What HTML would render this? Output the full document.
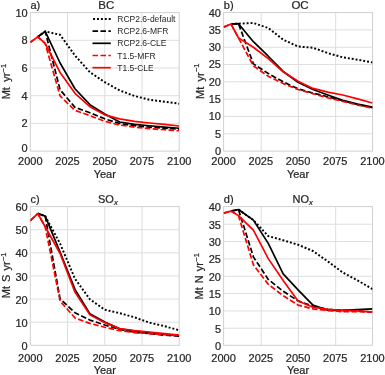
<!DOCTYPE html>
<html><head><meta charset="utf-8"><style>
html,body{margin:0;padding:0;background:#fff;}
svg{display:block;font-family:"Liberation Sans", sans-serif;will-change:transform;} text{stroke:#262626;stroke-width:0.22px;}
</style></head><body>
<svg width="385" height="375" viewBox="0 0 385 375">
<rect width="385" height="375" fill="#fff"/>
<clipPath id="clipa"><rect x="30.3" y="12.6" width="148.90" height="138.50"/></clipPath>
<g stroke="#dedede" stroke-width="1"><line x1="67.52" y1="12.6" x2="67.52" y2="151.1"/><line x1="104.75" y1="12.6" x2="104.75" y2="151.1"/><line x1="141.97" y1="12.6" x2="141.97" y2="151.1"/><line x1="30.3" y1="123.40" x2="179.2" y2="123.40"/><line x1="30.3" y1="95.70" x2="179.2" y2="95.70"/><line x1="30.3" y1="68.00" x2="179.2" y2="68.00"/><line x1="30.3" y1="40.30" x2="179.2" y2="40.30"/></g>
<rect x="30.3" y="12.6" width="148.90" height="138.50" fill="none" stroke="#d0d0d0" stroke-width="1"/>
<g clip-path="url(#clipa)"><polyline points="37.74,36.84 45.19,31.44 60.08,34.76 74.97,55.53 89.86,72.15 104.75,82.13 119.64,90.44 134.53,95.98 149.42,99.72 164.31,101.66 179.20,103.73" fill="none" stroke="#000" stroke-width="1.95" stroke-linejoin="round" stroke-dasharray="1.95 1.95"/><polyline points="37.74,36.84 45.19,31.44 60.08,89.74 74.97,107.33 89.86,112.74 104.75,118.83 119.64,123.54 134.53,125.75 149.42,127.14 164.31,128.25 179.20,129.22" fill="none" stroke="#000" stroke-width="1.7" stroke-linejoin="round" stroke-dasharray="5.55 2.40"/><polyline points="37.74,36.84 45.19,31.44 60.08,63.01 74.97,88.77 89.86,104.70 104.75,113.98 119.64,122.01 134.53,124.37 149.42,125.75 164.31,127.14 179.20,128.25" fill="none" stroke="#000" stroke-width="1.7" stroke-linejoin="round" /><polyline points="30.30,42.38 37.74,36.84 45.19,43.49 60.08,95.98 74.97,110.38 89.86,115.64 104.75,121.32 119.64,125.06 134.53,127.14 149.42,128.66 164.31,129.77 179.20,130.74" fill="none" stroke="#f00" stroke-width="1.7" stroke-linejoin="round" stroke-dasharray="5.55 2.40"/><polyline points="30.30,42.38 37.74,36.84 45.19,43.49 60.08,72.43 74.97,93.35 89.86,106.64 104.75,114.81 119.64,118.83 134.53,121.32 149.42,122.98 164.31,124.37 179.20,126.03" fill="none" stroke="#f00" stroke-width="1.7" stroke-linejoin="round" /></g>
<clipPath id="clipb"><rect x="223.6" y="12.6" width="148.90" height="138.50"/></clipPath>
<g stroke="#dedede" stroke-width="1"><line x1="261.22" y1="12.6" x2="261.22" y2="151.1"/><line x1="298.45" y1="12.6" x2="298.45" y2="151.1"/><line x1="335.67" y1="12.6" x2="335.67" y2="151.1"/><line x1="223.6" y1="133.79" x2="372.5" y2="133.79"/><line x1="223.6" y1="116.47" x2="372.5" y2="116.47"/><line x1="223.6" y1="99.16" x2="372.5" y2="99.16"/><line x1="223.6" y1="81.85" x2="372.5" y2="81.85"/><line x1="223.6" y1="64.54" x2="372.5" y2="64.54"/><line x1="223.6" y1="47.22" x2="372.5" y2="47.22"/><line x1="223.6" y1="29.91" x2="372.5" y2="29.91"/></g>
<rect x="223.6" y="12.6" width="148.90" height="138.50" fill="none" stroke="#d0d0d0" stroke-width="1"/>
<g clip-path="url(#clipb)"><polyline points="231.04,24.03 238.49,23.68 253.38,22.99 268.27,28.01 283.16,39.61 298.05,46.53 312.94,47.74 327.83,53.11 342.72,57.27 357.61,59.69 372.50,62.46" fill="none" stroke="#000" stroke-width="1.95" stroke-linejoin="round" stroke-dasharray="1.95 1.95"/><polyline points="231.04,24.03 238.49,23.68 253.38,63.84 268.27,73.54 283.16,81.85 298.05,88.77 312.94,93.10 327.83,96.74 342.72,100.72 357.61,104.53 372.50,107.61" fill="none" stroke="#000" stroke-width="1.7" stroke-linejoin="round" stroke-dasharray="5.55 2.40"/><polyline points="231.04,24.03 238.49,23.68 253.38,41.68 268.27,56.23 283.16,71.46 298.05,82.20 312.94,89.47 327.83,95.01 342.72,100.20 357.61,104.01 372.50,107.13" fill="none" stroke="#000" stroke-width="1.7" stroke-linejoin="round" /><polyline points="223.60,27.14 231.04,24.03 238.49,37.88 253.38,65.92 268.27,76.31 283.16,83.58 298.05,89.47 312.94,93.62 327.83,97.78 342.72,101.41 357.61,105.05 372.50,108.16" fill="none" stroke="#f00" stroke-width="1.7" stroke-linejoin="round" stroke-dasharray="5.55 2.40"/><polyline points="223.60,27.14 231.04,24.03 238.49,37.88 253.38,47.22 268.27,58.65 283.16,71.81 298.05,81.16 312.94,88.43 327.83,92.06 342.72,95.01 357.61,98.82 372.50,102.97" fill="none" stroke="#f00" stroke-width="1.7" stroke-linejoin="round" /></g>
<clipPath id="clipc"><rect x="30.3" y="206.6" width="148.90" height="138.70"/></clipPath>
<g stroke="#dedede" stroke-width="1"><line x1="67.52" y1="206.6" x2="67.52" y2="345.3"/><line x1="104.75" y1="206.6" x2="104.75" y2="345.3"/><line x1="141.97" y1="206.6" x2="141.97" y2="345.3"/><line x1="30.3" y1="322.18" x2="179.2" y2="322.18"/><line x1="30.3" y1="299.07" x2="179.2" y2="299.07"/><line x1="30.3" y1="275.95" x2="179.2" y2="275.95"/><line x1="30.3" y1="252.83" x2="179.2" y2="252.83"/><line x1="30.3" y1="229.72" x2="179.2" y2="229.72"/></g>
<rect x="30.3" y="206.6" width="148.90" height="138.70" fill="none" stroke="#d0d0d0" stroke-width="1"/>
<g clip-path="url(#clipc)"><polyline points="37.74,213.53 45.19,216.08 60.08,243.59 74.97,278.72 89.86,299.30 104.75,309.70 119.64,313.17 134.53,317.33 149.42,322.65 164.31,326.11 179.20,330.27" fill="none" stroke="#000" stroke-width="1.95" stroke-linejoin="round" stroke-dasharray="1.95 1.95"/><polyline points="37.74,213.53 45.19,216.08 60.08,298.84 74.97,312.71 89.86,320.10 104.75,324.96 119.64,329.35 134.53,332.35 149.42,333.60 164.31,335.13 179.20,336.10" fill="none" stroke="#000" stroke-width="1.7" stroke-linejoin="round" stroke-dasharray="5.55 2.40"/><polyline points="37.74,213.53 45.19,216.08 60.08,252.14 74.97,289.36 89.86,313.63 104.75,321.95 119.64,328.89 134.53,331.20 149.42,332.82 164.31,334.20 179.20,335.82" fill="none" stroke="#000" stroke-width="1.7" stroke-linejoin="round" /><polyline points="30.30,220.70 37.74,213.53 45.19,226.71 60.08,300.92 74.97,318.02 89.86,323.34 104.75,327.27 119.64,330.74 134.53,332.35 149.42,333.60 164.31,334.67 179.20,335.71" fill="none" stroke="#f00" stroke-width="1.7" stroke-linejoin="round" stroke-dasharray="5.55 2.40"/><polyline points="30.30,220.70 37.74,213.53 45.19,226.71 60.08,253.53 74.97,292.13 89.86,314.79 104.75,322.65 119.64,328.66 134.53,330.51 149.42,332.01 164.31,333.60 179.20,335.13" fill="none" stroke="#f00" stroke-width="1.7" stroke-linejoin="round" /></g>
<clipPath id="clipd"><rect x="223.6" y="206.6" width="148.90" height="138.70"/></clipPath>
<g stroke="#dedede" stroke-width="1"><line x1="261.22" y1="206.6" x2="261.22" y2="345.3"/><line x1="298.45" y1="206.6" x2="298.45" y2="345.3"/><line x1="335.67" y1="206.6" x2="335.67" y2="345.3"/><line x1="223.6" y1="328.26" x2="372.5" y2="328.26"/><line x1="223.6" y1="310.93" x2="372.5" y2="310.93"/><line x1="223.6" y1="293.59" x2="372.5" y2="293.59"/><line x1="223.6" y1="276.25" x2="372.5" y2="276.25"/><line x1="223.6" y1="258.91" x2="372.5" y2="258.91"/><line x1="223.6" y1="241.58" x2="372.5" y2="241.58"/><line x1="223.6" y1="224.24" x2="372.5" y2="224.24"/></g>
<rect x="223.6" y="206.6" width="148.90" height="138.70" fill="none" stroke="#d0d0d0" stroke-width="1"/>
<g clip-path="url(#clipd)"><polyline points="231.04,211.11 238.49,209.55 253.38,220.12 268.27,236.07 283.16,240.23 298.05,244.74 312.94,250.98 327.83,261.39 342.72,272.48 357.61,280.46 372.50,289.13" fill="none" stroke="#000" stroke-width="1.95" stroke-linejoin="round" stroke-dasharray="1.95 1.95"/><polyline points="231.04,211.11 238.49,209.55 253.38,256.88 268.27,279.42 283.16,291.21 298.05,300.92 312.94,306.12 327.83,309.41 342.72,310.28 357.61,310.97 372.50,312.01" fill="none" stroke="#000" stroke-width="1.7" stroke-linejoin="round" stroke-dasharray="5.55 2.40"/><polyline points="231.04,211.11 238.49,209.55 253.38,220.12 268.27,243.36 283.16,273.87 298.05,289.82 312.94,305.08 327.83,310.28 342.72,310.28 357.61,309.58 372.50,308.89" fill="none" stroke="#000" stroke-width="1.7" stroke-linejoin="round" /><polyline points="223.60,213.19 231.04,211.11 238.49,215.62 253.38,264.85 268.27,284.27 283.16,295.71 298.05,305.08 312.94,308.89 327.83,310.28 342.72,311.67 357.61,311.67 372.50,312.01" fill="none" stroke="#f00" stroke-width="1.7" stroke-linejoin="round" stroke-dasharray="5.55 2.40"/><polyline points="223.60,213.19 231.04,211.11 238.49,215.62 253.38,230.18 268.27,258.61 283.16,280.46 298.05,300.92 312.94,307.16 327.83,309.41 342.72,310.28 357.61,310.97 372.50,312.01" fill="none" stroke="#f00" stroke-width="1.7" stroke-linejoin="round" /></g>
<line x1="93.1" y1="18.90" x2="110.8" y2="18.90" stroke="#000" stroke-width="1.95" stroke-dasharray="1.95 1.95"/>
<text x="117.3" y="21.90" font-size="8.5" fill="#262626" style="stroke:none">RCP2.6-default</text>
<line x1="92.5" y1="31.10" x2="110.8" y2="31.10" stroke="#000" stroke-width="1.7" stroke-dasharray="5.55 2.40"/>
<text x="117.3" y="34.10" font-size="8.5" fill="#262626" style="stroke:none">RCP2.6-MFR</text>
<line x1="92.5" y1="43.30" x2="110.8" y2="43.30" stroke="#000" stroke-width="1.7" />
<text x="117.3" y="46.30" font-size="8.5" fill="#262626" style="stroke:none">RCP2.6-CLE</text>
<line x1="92.5" y1="55.50" x2="110.8" y2="55.50" stroke="#f00" stroke-width="1.7" stroke-dasharray="5.55 2.40"/>
<text x="117.3" y="58.50" font-size="8.5" fill="#262626" style="stroke:none">T1.5-MFR</text>
<line x1="92.5" y1="67.70" x2="110.8" y2="67.70" stroke="#f00" stroke-width="1.7" />
<text x="117.3" y="70.70" font-size="8.5" fill="#262626" style="stroke:none">T1.5-CLE</text>
<text x="27.70" y="152.14" font-size="11" fill="#262626" text-anchor="end">0</text>
<text x="27.70" y="127.34" font-size="11" fill="#262626" text-anchor="end">2</text>
<text x="27.70" y="99.64" font-size="11" fill="#262626" text-anchor="end">4</text>
<text x="27.70" y="71.94" font-size="11" fill="#262626" text-anchor="end">6</text>
<text x="27.70" y="44.24" font-size="11" fill="#262626" text-anchor="end">8</text>
<text x="27.70" y="16.54" font-size="11" fill="#262626" text-anchor="end">10</text>
<text x="221.00" y="155.04" font-size="11" fill="#262626" text-anchor="end">0</text>
<text x="221.00" y="137.73" font-size="11" fill="#262626" text-anchor="end">5</text>
<text x="221.00" y="120.41" font-size="11" fill="#262626" text-anchor="end">10</text>
<text x="221.00" y="103.10" font-size="11" fill="#262626" text-anchor="end">15</text>
<text x="221.00" y="85.79" font-size="11" fill="#262626" text-anchor="end">20</text>
<text x="221.00" y="68.48" font-size="11" fill="#262626" text-anchor="end">25</text>
<text x="221.00" y="51.16" font-size="11" fill="#262626" text-anchor="end">30</text>
<text x="221.00" y="33.85" font-size="11" fill="#262626" text-anchor="end">35</text>
<text x="221.00" y="16.54" font-size="11" fill="#262626" text-anchor="end">40</text>
<text x="27.70" y="349.94" font-size="11" fill="#262626" text-anchor="end">0</text>
<text x="27.70" y="326.82" font-size="11" fill="#262626" text-anchor="end">10</text>
<text x="27.70" y="303.71" font-size="11" fill="#262626" text-anchor="end">20</text>
<text x="27.70" y="280.59" font-size="11" fill="#262626" text-anchor="end">30</text>
<text x="27.70" y="257.47" font-size="11" fill="#262626" text-anchor="end">40</text>
<text x="27.70" y="234.36" font-size="11" fill="#262626" text-anchor="end">50</text>
<text x="27.70" y="211.24" font-size="11" fill="#262626" text-anchor="end">60</text>
<text x="221.00" y="349.94" font-size="11" fill="#262626" text-anchor="end">0</text>
<text x="221.00" y="332.60" font-size="11" fill="#262626" text-anchor="end">5</text>
<text x="221.00" y="315.26" font-size="11" fill="#262626" text-anchor="end">10</text>
<text x="221.00" y="297.93" font-size="11" fill="#262626" text-anchor="end">15</text>
<text x="221.00" y="280.59" font-size="11" fill="#262626" text-anchor="end">20</text>
<text x="221.00" y="263.25" font-size="11" fill="#262626" text-anchor="end">25</text>
<text x="221.00" y="245.91" font-size="11" fill="#262626" text-anchor="end">30</text>
<text x="221.00" y="228.58" font-size="11" fill="#262626" text-anchor="end">35</text>
<text x="221.00" y="211.24" font-size="11" fill="#262626" text-anchor="end">40</text>
<text x="30.30" y="165.30" font-size="11" fill="#262626" text-anchor="middle">2000</text>
<text x="67.52" y="165.30" font-size="11" fill="#262626" text-anchor="middle">2025</text>
<text x="104.75" y="165.30" font-size="11" fill="#262626" text-anchor="middle">2050</text>
<text x="141.97" y="165.30" font-size="11" fill="#262626" text-anchor="middle">2075</text>
<text x="179.20" y="165.30" font-size="11" fill="#262626" text-anchor="middle">2100</text>
<text x="223.60" y="165.30" font-size="11" fill="#262626" text-anchor="middle">2000</text>
<text x="260.82" y="165.30" font-size="11" fill="#262626" text-anchor="middle">2025</text>
<text x="298.05" y="165.30" font-size="11" fill="#262626" text-anchor="middle">2050</text>
<text x="335.27" y="165.30" font-size="11" fill="#262626" text-anchor="middle">2075</text>
<text x="372.50" y="165.30" font-size="11" fill="#262626" text-anchor="middle">2100</text>
<text x="30.30" y="362.20" font-size="11" fill="#262626" text-anchor="middle">2000</text>
<text x="67.52" y="362.20" font-size="11" fill="#262626" text-anchor="middle">2025</text>
<text x="104.75" y="362.20" font-size="11" fill="#262626" text-anchor="middle">2050</text>
<text x="141.97" y="362.20" font-size="11" fill="#262626" text-anchor="middle">2075</text>
<text x="179.20" y="362.20" font-size="11" fill="#262626" text-anchor="middle">2100</text>
<text x="223.60" y="362.20" font-size="11" fill="#262626" text-anchor="middle">2000</text>
<text x="260.82" y="362.20" font-size="11" fill="#262626" text-anchor="middle">2025</text>
<text x="298.05" y="362.20" font-size="11" fill="#262626" text-anchor="middle">2050</text>
<text x="335.27" y="362.20" font-size="11" fill="#262626" text-anchor="middle">2075</text>
<text x="372.50" y="362.20" font-size="11" fill="#262626" text-anchor="middle">2100</text>
<text x="104.75" y="178.3" font-size="11" fill="#262626" text-anchor="middle">Year</text>
<text x="298.05" y="178.3" font-size="11" fill="#262626" text-anchor="middle">Year</text>
<text x="104.75" y="374.3" font-size="11" fill="#262626" text-anchor="middle">Year</text>
<text x="298.05" y="374.3" font-size="11" fill="#262626" text-anchor="middle">Year</text>
<text x="106.35" y="8.6" font-size="11.5" fill="#262626" text-anchor="middle">BC</text>
<text x="300.05" y="8.6" font-size="11.5" fill="#262626" text-anchor="middle">OC</text>
<text x="98" y="202.5" font-size="11" fill="#262626">SO<tspan font-size="7.7" font-style="italic" dy="2.2">x</tspan></text>
<text x="292.5" y="202.5" font-size="11" fill="#262626">NO<tspan font-size="7.7" font-style="italic" dy="2.2">x</tspan></text>
<text x="30.5" y="8.9" font-size="11" fill="#262626">a)</text>
<text x="223.8" y="8.9" font-size="11" fill="#262626">b)</text>
<text x="30.5" y="203.3" font-size="11" fill="#262626">c)</text>
<text x="223.8" y="203.3" font-size="11" fill="#262626">d)</text>
<text transform="translate(10.1,81.6) rotate(-90)" font-size="11" fill="#262626" text-anchor="middle" style="word-spacing:2.2px">Mt yr<tspan font-size="7.5" dy="-4.2" dx="0.3">−1</tspan></text>
<text transform="translate(203.6,81.2) rotate(-90)" font-size="11" fill="#262626" text-anchor="middle" style="word-spacing:2.2px">Mt yr<tspan font-size="7.5" dy="-4.2" dx="0.3">−1</tspan></text>
<text transform="translate(10.0,275.4) rotate(-90)" font-size="11" fill="#262626" text-anchor="middle" style="word-spacing:1.0px">Mt S yr<tspan font-size="7.5" dy="-4.2" dx="0.3">−1</tspan></text>
<text transform="translate(203.3,276.3) rotate(-90)" font-size="11" fill="#262626" text-anchor="middle" style="word-spacing:1.0px">Mt N yr<tspan font-size="7.5" dy="-4.2" dx="0.3">−1</tspan></text>
</svg>
</body></html>
